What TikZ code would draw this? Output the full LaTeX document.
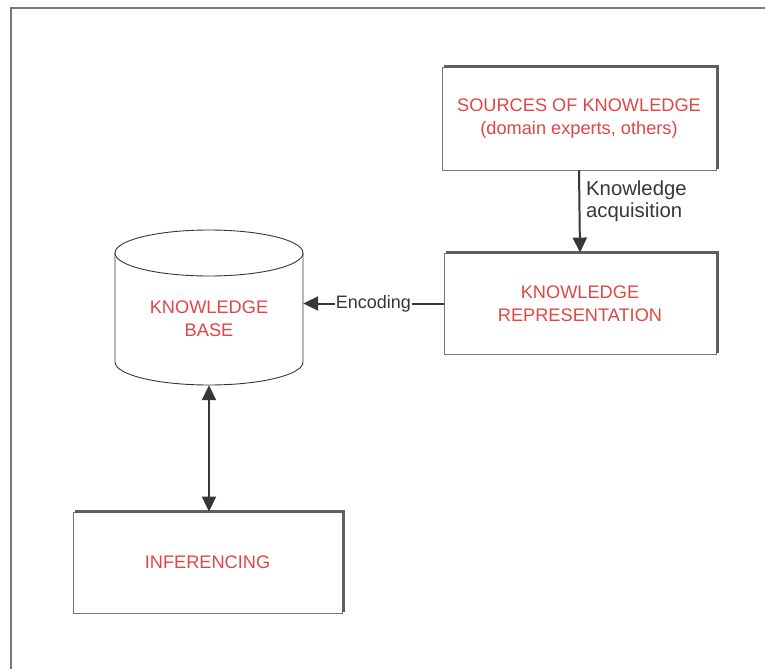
\documentclass[tikz,border=0pt]{standalone}
\usepackage{fontspec}
\setmainfont{Liberation Sans}
\usetikzlibrary{arrows.meta,calc}
\definecolor{kred}{RGB}{224,70,70}
\definecolor{kline}{RGB}{55,55,55}
\definecolor{kframe}{RGB}{120,120,120}
\definecolor{kshadow}{RGB}{95,95,95}
\tikzset{
  kbox/.style={draw=kframe, line width=0.9pt, fill=white, inner sep=0pt,
    font=\fontsize{18.2}{23}\selectfont, text=kred, align=center},
  redtext/.style={font=\fontsize{18.2}{23}\selectfont, text=kred, align=center, inner sep=0pt},
  edgelabel/.style={font=\fontsize{20.3}{22.5}\selectfont, text=kline, inner sep=1pt},
  conn/.style={draw=kline, line width=2pt, -{Triangle[length=15pt,width=14pt]}},
  dconn/.style={draw=kline, line width=2pt, {Triangle[length=15pt,width=14pt]}-{Triangle[length=15pt,width=14pt]}},
  topright/.style={draw=kshadow, line width=3.2pt},
}
\newcommand{\shadowedges}[1]{%
  \draw[topright] ($(#1.north west)+(2,0)$) -- ($(#1.north east)+(1.2,0)$) -- ($(#1.south east)+(1.2,-1)$);}
\begin{document}
\begin{tikzpicture}[x=1pt,y=-1pt]
\useasboundingbox (0,0) rectangle (765,669);
\fill[white] (0,0) rectangle (765,669);
% outer frame (only left and top edges fall inside the page)
\draw[draw=kframe, line width=2.4pt] (11,669) -- (11,8) -- (765,8);

% boxes
\node[kbox, minimum width=274pt, minimum height=103pt] (src) at (579,118.5)
  {SOURCES OF KNOWLEDGE\\(domain experts, others)};
\shadowedges{src}
\node[kbox, minimum width=272pt, minimum height=101pt] (kr) at (580,303.5)
  {KNOWLEDGE\\REPRESENTATION};
\shadowedges{kr}
\node[kbox, minimum width=269pt, minimum height=101pt] (inf) at (207.5,562.5)
  {INFERENCING};
\shadowedges{inf}

% knowledge base cylinder
\node[minimum width=188pt, minimum height=158pt, inner sep=0pt] (kb) at (209,306) {};
\draw[draw=kline, line width=0.9pt, fill=white]
  (115,253) -- (115,362) arc (180:360:94pt and 23pt) -- (303,253)
  arc (0:180:94pt and 23pt) -- cycle;
\draw[draw=kline, line width=0.9pt] (115,253) arc (180:360:94pt and 23pt);
\node[redtext] (kbtext) at (209,319) {KNOWLEDGE\\BASE};

% connectors
\draw[conn] (src.south) -- (kr.north);
\node[edgelabel, anchor=west, align=left] (acq) at (585,201)
  {Knowledge\\acquisition};
\draw[conn] (kr.west) -- (kr.west -| kb.east)
  node[midway, fill=white, inner sep=1pt, font=\fontsize{18}{20}\selectfont, text=kline] (enc) {Encoding};
\draw[dconn] (kb.south) -- (kb.south |- inf.north);
\end{tikzpicture}
\end{document}
